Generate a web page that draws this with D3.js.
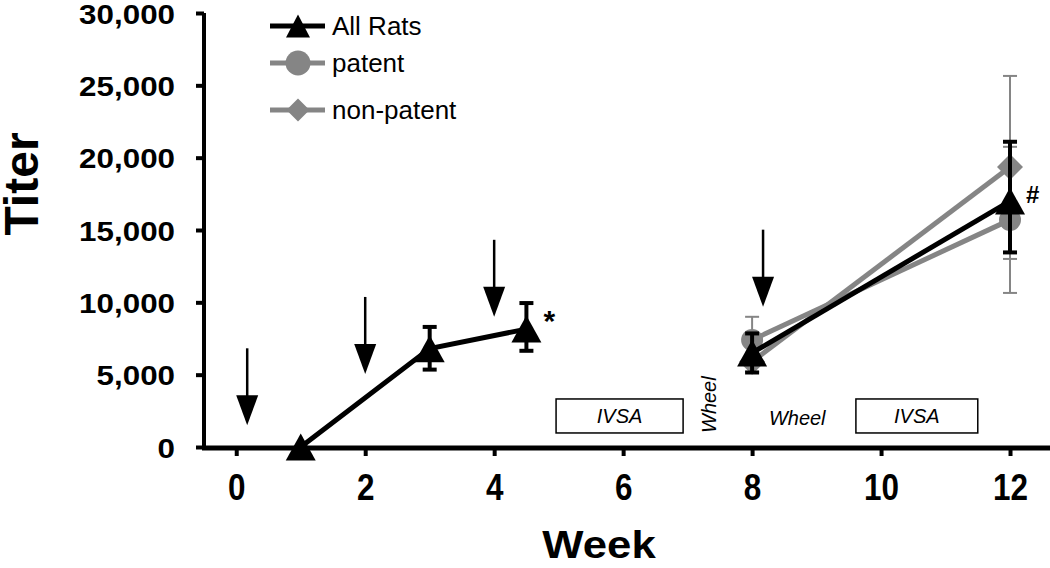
<!DOCTYPE html>
<html>
<head>
<meta charset="utf-8">
<script src="https://cdn.jsdelivr.net/npm/d3@7"></script>
<style>
  html, body { margin: 0; padding: 0; background: #fff; }
  svg { display: block; font-family: Arial, "Liberation Sans", sans-serif; }
</style>
</head>
<body>
<svg id="chart" width="1050" height="568"></svg>
<script>
// ---------- data ----------
const yTicks = [0, 5000, 10000, 15000, 20000, 25000, 30000];
const xTicks = [0, 2, 4, 6, 8, 10, 12];

const weeksAll = [1, 3, 4.5, 8, 12];
const allSegment = [0, 0, 0, 1, 1];
const allMean = [0, 6800, 8150, 6500, 17000];
const allLow  = [0, 5350, 6650, 5150, 13450];
const allHigh = [0, 8300, 9950, 7850, 21100];

const weeksSub = [8, 12];
const patentMean = [7400, 15700];
const patentLow  = [5800, 10650];
const patentHigh = [9000, 20750];
const nonPatentMean = [5900, 19350];
const nonPatentLow  = [5200, 13000];
const nonPatentHigh = [7000, 25650];

const arrowWeeks = [0.17, 2, 4, 8.17];
const arrowTips  = [1500, 5050, 9000, 9700];

const boxLabels = ["IVSA", "IVSA"];
const boxStart  = [4.96, 9.61];
const boxEnd    = [6.93, 11.5];
const boxTop    = [3320, 3320];
const boxBottom = [970, 970];

const legendNames = ["All Rats", "patent", "non-patent"];

// ---------- setup ----------
const svg = d3.select("#chart");
const x = d3.scaleLinear().domain([-0.5, 12.62]).range([204, 1050]);
const y = d3.scaleLinear().domain([0, 30000]).range([447, 13]);
const GRAY = "#858585";

function tri(w, h) { return `M0,${-h/2}L${w/2},${h/2}L${-w/2},${h/2}Z`; }
function diamond(a) { return `M0,${-a}L${a},0L0,${a}L${-a},0Z`; }

// ---------- annotation boxes ----------
const boxes = boxLabels.map((t, i) => ({t, s: boxStart[i], e: boxEnd[i], top: boxTop[i], bot: boxBottom[i]}));
svg.selectAll("rect.box").data(boxes).join("rect")
  .attr("x", d => x(d.s)).attr("y", d => y(d.top))
  .attr("width", d => x(d.e) - x(d.s)).attr("height", d => y(d.bot) - y(d.top))
  .attr("fill", "#fff").attr("stroke", "#000").attr("stroke-width", 1.5);
svg.selectAll("text.box").data(boxes).join("text")
  .attr("x", d => (x(d.s) + x(d.e)) / 2).attr("y", d => (y(d.top) + y(d.bot)) / 2 + 7)
  .attr("text-anchor", "middle").attr("font-size", 20).attr("font-style", "italic")
  .text(d => d.t);
svg.append("text").attr("transform", `translate(${x(7.32) + 8},433) rotate(-90)`)
  .attr("font-size", 20).attr("font-style", "italic").text("Wheel");
svg.append("text").attr("x", x(8.7)).attr("y", 425).attr("text-anchor", "middle")
  .attr("font-size", 20).attr("font-style", "italic").text("Wheel");

// ---------- axes ----------
const yAxis = d3.axisLeft(y).tickValues(yTicks).tickSize(8).tickFormat(d3.format(","));
const gy = svg.append("g").attr("transform", "translate(204,0)").call(yAxis);
gy.select(".domain").attr("stroke-width", 4).attr("d", `M0,${y(30000)}V${y(0)}`);
gy.selectAll(".tick line").attr("stroke-width", 4);
gy.selectAll(".tick text").attr("font-size", 28).attr("font-weight", "bold").attr("fill", "#000")
  .attr("x", -29).attr("dy", "0.36em")
  .attr("transform", "translate(-29,0) scale(1.12,1) translate(29,0)");

const xAxis = d3.axisBottom(x).tickValues(xTicks).tickSize(8).tickFormat(d3.format("d"));
const gx = svg.append("g").attr("transform", "translate(0,448)").call(xAxis);
gx.select(".domain").attr("stroke-width", 5).attr("d", `M202,0H1050`);
gx.selectAll(".tick line").attr("stroke-width", 4);
gx.selectAll(".tick text").attr("font-size", 37).attr("font-weight", "bold").attr("fill", "#000")
  .attr("y", 52).attr("dy", 0).attr("transform", "scale(0.85,1)");

svg.append("text").attr("transform", "translate(599,558) scale(1.15,1)")
  .attr("text-anchor", "middle").attr("font-size", 38).attr("font-weight", "bold").text("Week");
svg.append("text").attr("transform", "translate(38,184) rotate(-90)")
  .attr("text-anchor", "middle").attr("font-size", 48).attr("font-weight", "bold").text("Titer");

// ---------- arrows ----------
const arrows = arrowWeeks.map((w, i) => ({w, v: arrowTips[i]}));
const ag = svg.selectAll("g.arrow").data(arrows).join("g")
  .attr("transform", d => `translate(${x(d.w)},${y(d.v)})`);
ag.append("line").attr("x1", 0).attr("x2", 0).attr("y1", -77).attr("y2", -25)
  .attr("stroke", "#000").attr("stroke-width", 2.5);
ag.append("path").attr("d", "M0,0L-11,-30L11,-30Z").attr("fill", "#000");

// ---------- series ----------
function series(weeks, mean, low, high) {
  return weeks.map((w, i) => ({w, m: mean[i], lo: low[i], hi: high[i]}));
}
const allData = series(weeksAll, allMean, allLow, allHigh);
allData.forEach((d, i) => d.seg = allSegment[i]);
const patData = series(weeksSub, patentMean, patentLow, patentHigh);
const nonData = series(weeksSub, nonPatentMean, nonPatentLow, nonPatentHigh);
const line = d3.line().x(d => x(d.w)).y(d => y(d.m));

function errorBars(data, color, width, cap) {
  const g = svg.append("g");
  data.filter(d => d.hi > d.lo).forEach(d => {
    g.append("line").attr("x1", x(d.w)).attr("x2", x(d.w)).attr("y1", y(d.hi)).attr("y2", y(d.lo))
      .attr("stroke", color).attr("stroke-width", width);
    [d.hi, d.lo].forEach(v => g.append("line")
      .attr("x1", x(d.w) - cap).attr("x2", x(d.w) + cap).attr("y1", y(v)).attr("y2", y(v))
      .attr("stroke", color).attr("stroke-width", width));
  });
}

errorBars(nonData, GRAY, 2, 7);
errorBars(patData, GRAY, 2, 7);
svg.append("path").datum(patData).attr("d", line).attr("fill", "none").attr("stroke", GRAY).attr("stroke-width", 5);
svg.append("path").datum(nonData).attr("d", line).attr("fill", "none").attr("stroke", GRAY).attr("stroke-width", 5);
svg.selectAll("circle.pat").data(patData).join("circle")
  .attr("cx", d => x(d.w)).attr("cy", d => y(d.m)).attr("r", 11).attr("fill", GRAY);
svg.selectAll("path.non").data(nonData).join("path")
  .attr("transform", d => `translate(${x(d.w)},${y(d.m)})`).attr("d", diamond(13)).attr("fill", GRAY);

errorBars(allData, "#000", 4, 7);
const segs = d3.groups(allData, d => d.seg).map(g => g[1]);
svg.selectAll("path.allline").data(segs).join("path")
  .attr("d", line).attr("fill", "none").attr("stroke", "#000").attr("stroke-width", 5);
svg.selectAll("path.all").data(allData).join("path")
  .attr("transform", d => `translate(${x(d.w)},${y(d.m)})`).attr("d", tri(30, 27)).attr("fill", "#000");

// significance marks
svg.append("text").attr("x", x(4.5) + 17).attr("y", y(8150) + 2).attr("font-size", 30).attr("font-weight", "bold").text("*");
svg.append("text").attr("x", x(12) + 16).attr("y", y(17000) + 2).attr("font-size", 24).attr("font-weight", "bold").text("#");

// ---------- legend ----------
const legY = [26, 63, 110];
const lg = svg.selectAll("g.leg").data(legendNames).join("g")
  .attr("transform", (d, i) => `translate(270,${legY[i]})`);
lg.append("line").attr("x1", 0).attr("x2", 55).attr("y1", 0).attr("y2", 0)
  .attr("stroke", (d, i) => i === 0 ? "#000" : GRAY).attr("stroke-width", 5);
lg.append("path").attr("transform", "translate(28,0)")
  .attr("d", (d, i) => i === 0 ? tri(24, 23) : i === 1 ? "M-12.5,0a12.5,12.5 0 1,0 25,0a12.5,12.5 0 1,0 -25,0" : diamond(11.5))
  .attr("fill", (d, i) => i === 0 ? "#000" : GRAY);
lg.append("text").attr("x", 62).attr("y", 0).attr("dy", "0.36em").attr("font-size", 26).text(d => d);
</script>
</body>
</html>
